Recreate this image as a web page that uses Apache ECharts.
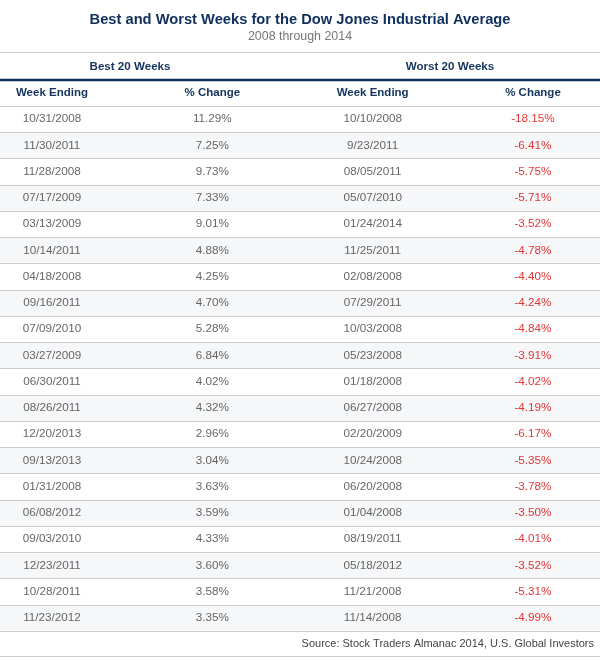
<!DOCTYPE html>
<html>
<head>
<meta charset="utf-8">
<script src="https://cdn.jsdelivr.net/npm/echarts@6/dist/echarts.min.js"></script>
<style>html,body{margin:0;padding:0;background:#fff;}#c{width:600px;height:660px;}</style>
</head>
<body>
<div id="c"></div>
<script>
const columns = ['Week Ending', '% Change', 'Week Ending', '% Change'];
const bestWeeks = ['10/31/2008','11/30/2011','11/28/2008','07/17/2009','03/13/2009','10/14/2011','04/18/2008','09/16/2011','07/09/2010','03/27/2009','06/30/2011','08/26/2011','12/20/2013','09/13/2013','01/31/2008','06/08/2012','09/03/2010','12/23/2011','10/28/2011','11/23/2012'];
const bestChange = [11.29,7.25,9.73,7.33,9.01,4.88,4.25,4.70,5.28,6.84,4.02,4.32,2.96,3.04,3.63,3.59,4.33,3.60,3.58,3.35];
const worstWeeks = ['10/10/2008','9/23/2011','08/05/2011','05/07/2010','01/24/2014','11/25/2011','02/08/2008','07/29/2011','10/03/2008','05/23/2008','01/18/2008','06/27/2008','02/20/2009','10/24/2008','06/20/2008','01/04/2008','08/19/2011','05/18/2012','11/21/2008','11/14/2008'];
const worstChange = [-18.15,-6.41,-5.75,-5.71,-3.52,-4.78,-4.40,-4.24,-4.84,-3.91,-4.02,-4.19,-6.17,-5.35,-3.78,-3.50,-4.01,-3.52,-5.31,-4.99];
const rows = bestWeeks.map((d, i) => String(i + 1));

const FONT = '"Liberation Sans", Arial, sans-serif';
const NAVY = '#14345e';
const TEXT = '#404040';

function cellSeries(colIdx, values, fmt, color) {
  return {
    type: 'scatter',
    symbolSize: 0,
    silent: true,
    data: values.map((v, i) => ({ value: [colIdx, rows[i]], txt: fmt(v) })),
    label: {
      show: true,
      position: 'inside',
      formatter: p => p.data.txt,
      color: color,
      fontFamily: FONT,
      fontSize: 11.7
    }
  };
}

const chart = echarts.init(document.getElementById('c'), null, { renderer: 'canvas' });
chart.setOption({
  animation: false,
  backgroundColor: '#fff',
  title: [
    { text: 'Best and Worst Weeks for the Dow Jones Industrial Average', left: 'center', top: 7,
      textStyle: { fontFamily: FONT, fontSize: 14.7, fontWeight: 'bold', color: '#0f2f5c' } },
    { text: '2008 through 2014', left: 'center', top: 26,
      textStyle: { fontFamily: FONT, fontSize: 12.4, fontWeight: 'normal', color: '#777' } },
    { text: 'Best 20 Weeks', left: 125, top: 56, textAlign: 'center',
      textStyle: { fontFamily: FONT, fontSize: 11.6, fontWeight: 'bold', color: NAVY } },
    { text: 'Worst 20 Weeks', left: 445, top: 56, textAlign: 'center',
      textStyle: { fontFamily: FONT, fontSize: 11.6, fontWeight: 'bold', color: NAVY } },
    { text: 'Source: Stock Traders Almanac 2014, U.S. Global Investors', right: 1, top: 633,
      textStyle: { fontFamily: FONT, fontSize: 11, fontWeight: 'normal', color: '#444' } }
  ],
  grid: { left: 0, right: 0, top: 106, bottom: 29, containLabel: false },
  xAxis: {
    type: 'value',
    position: 'top',
    min: -0.324,
    max: 3.418,
    axisLine: { show: false },
    axisTick: { show: false },
    splitLine: { show: false },
    axisLabel: {
      customValues: [0, 1, 2, 3],
      margin: 7,
      fontFamily: FONT, fontSize: 11.5, fontWeight: 'bold', color: NAVY,
      formatter: v => columns[Math.round(v)]
    }
  },
  yAxis: {
    type: 'category',
    inverse: true,
    data: rows,
    axisLine: { show: false },
    axisTick: { show: false },
    axisLabel: { show: false },
    splitLine: { show: true, lineStyle: { color: '#cccccc', width: 1 } },
    splitArea: { show: true, areaStyle: { color: ['#ffffff', '#f6f7f9'] } }
  },
  graphic: [
    { type: 'line', shape: { x1: 0, y1: 52.5, x2: 600, y2: 52.5 }, style: { stroke: '#cccccc', lineWidth: 1 } },
    { type: 'line', shape: { x1: 0, y1: 80, x2: 600, y2: 80 }, style: { stroke: '#0f2f5c', lineWidth: 2.5 } },
    { type: 'line', shape: { x1: 0, y1: 106.5, x2: 600, y2: 106.5 }, style: { stroke: '#cccccc', lineWidth: 1 } },
    { type: 'line', shape: { x1: 0, y1: 630.5, x2: 600, y2: 630.5 }, style: { stroke: '#cccccc', lineWidth: 1 } },
    { type: 'line', shape: { x1: 0, y1: 656.5, x2: 600, y2: 656.5 }, style: { stroke: '#cccccc', lineWidth: 1 } }
  ],
  series: [
    cellSeries(0, bestWeeks, v => v, TEXT),
    cellSeries(1, bestChange, v => v.toFixed(2) + '%', TEXT),
    cellSeries(2, worstWeeks, v => v, TEXT),
    cellSeries(3, worstChange, v => v.toFixed(2) + '%', '#dd0000')
  ]
});
</script>
</body>
</html>
